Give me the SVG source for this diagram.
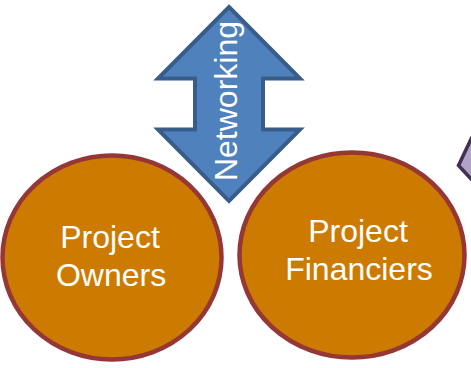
<svg xmlns="http://www.w3.org/2000/svg" width="471" height="368" viewBox="0 0 471 368">
  <style>
    .ell { fill: #CD7A00; stroke: #953735; stroke-width: 4.5; }
    .lbl { font-family: "Liberation Sans", Arial, sans-serif; font-size: 32px; fill: #FFFFFF; text-anchor: middle; }
    .arrow { fill: #4F81BD; stroke: #385D8A; stroke-width: 4; stroke-linejoin: miter; }
    .side { fill: #B3A2C7; stroke: #403152; stroke-width: 3.5; stroke-linejoin: miter; }
  </style>
  <rect x="0" y="0" width="471" height="368" fill="#FFFFFF"/>
  <g id="partial-shape">
    <path class="side" d="M 472 137 L 458.5 165.5 L 473 181"/>
  </g>
  <g id="connectors">
    <g id="networking">
      <path class="arrow" d="M 229 7 L 300 78.5 L 263 78.5 L 263 129.5 L 300 129.5 L 229 201 L 158 129.5 L 195 129.5 L 195 78.5 L 158 78.5 Z"/>
      <text class="lbl" font-size="33" transform="translate(237,101) rotate(-90)" x="0" y="0">Networking</text>
    </g>
  </g>
  <g id="project-owners">
    <ellipse class="ell" cx="112" cy="257.5" rx="109.5" ry="102"/>
    <text class="lbl" x="110" y="248">Project</text>
    <text class="lbl" x="111" y="286">Owners</text>
  </g>
  <g id="project-financiers">
    <ellipse class="ell" cx="352" cy="255" rx="112.5" ry="102.5"/>
    <text class="lbl" x="358" y="242">Project</text>
    <text class="lbl" x="359" y="280">Financiers</text>
  </g>
</svg>
